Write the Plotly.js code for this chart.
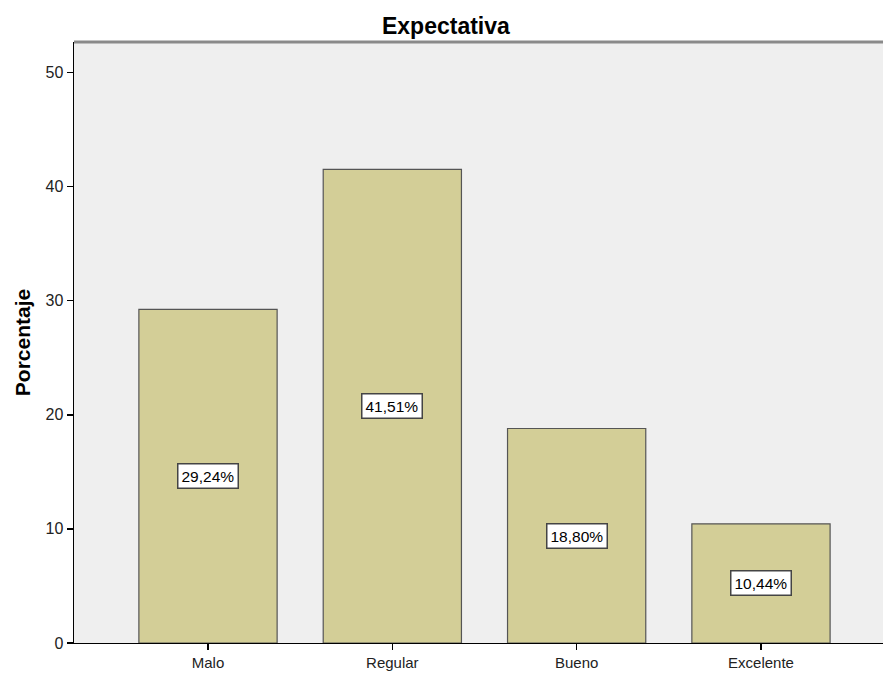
<!DOCTYPE html>
<html>
<head>
<meta charset="utf-8">
<script src="https://cdn.plot.ly/plotly-3.0.1.min.js"></script>
<style>html,body{margin:0;padding:0;background:#fff;}#chart{width:883px;height:673px;}</style>
</head>
<body>
<div id="chart"></div>
<script>
const categories = ["Malo", "Regular", "Bueno", "Excelente"];
const values = [29.24, 41.51, 18.80, 10.44];
const labels = ["29,24%", "41,51%", "18,80%", "10,44%"];
const yTicks = [0, 10, 20, 30, 40, 50];

const FONT = "Liberation Sans, Arial, sans-serif";

const trace = {
  type: "bar",
  x: categories,
  y: values,
  width: 0.75,
  marker: {color: "#D3CE97", line: {color: "#555555", width: 1.2}},
  hoverinfo: "skip"
};

const annotations = categories.map((c, i) => ({
  x: c, y: values[i] / 2, xref: "x", yref: "y",
  text: labels[i], showarrow: false,
  font: {family: FONT, size: 15.5, color: "#000"},
  bgcolor: "#ffffff", bordercolor: "#444444", borderwidth: 1.5, borderpad: 3
}));

const layout = {
  width: 883, height: 673,
  margin: {l: 74, r: 0, t: 42, b: 30},
  paper_bgcolor: "#ffffff",
  plot_bgcolor: "#EFEFEF",
  showlegend: false,
  title: {text: "<b>Expectativa</b>", x: 0.505, xanchor: "center", y: 0.961, yanchor: "middle",
          font: {family: FONT, size: 23, color: "#000"}},
  xaxis: {
    type: "category", range: [-0.727, 3.662],
    showline: true, linecolor: "#000", linewidth: 1,
    ticks: "outside", ticklen: 6, tickcolor: "#000", tickwidth: 1.5,
    showgrid: false, zeroline: false,
    tickfont: {family: FONT, size: 15, color: "#222"}
  },
  yaxis: {
    range: [0, 52.67], tickvals: yTicks, ticktext: yTicks.map(String),
    showline: true, linecolor: "#000", linewidth: 1.5,
    ticks: "outside", ticklen: 6, tickcolor: "#000", tickwidth: 1.5,
    showgrid: false, zeroline: false,
    tickfont: {family: FONT, size: 16, color: "#222"},
    title: {text: "<b>Porcentaje</b>", standoff: 9,
            font: {family: FONT, size: 21, color: "#000"}}
  },
  shapes: [{type: "line", xref: "paper", yref: "paper", x0: 0, x1: 1, y0: 1, y1: 1,
            line: {color: "#8a8a8a", width: 3}}],
  annotations: annotations
};

Plotly.newPlot("chart", [trace], layout, {displayModeBar: false, staticPlot: true});
</script>
</body>
</html>
